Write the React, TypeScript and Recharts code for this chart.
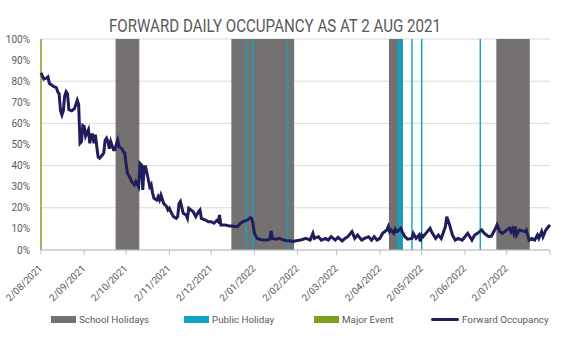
import {
  ComposedChart,
  Line,
  XAxis,
  YAxis,
  CartesianGrid,
  ReferenceArea,
  ReferenceLine,
} from "recharts";

// day 0 = 2 Aug 2021, day 365 = 2 Aug 2022
const tickDays = [0, 31, 61, 92, 122, 153, 184, 212, 243, 273, 304, 334, 365];
const tickLabels = [
  "2/08/2021", "2/09/2021", "2/10/2021", "2/11/2021", "2/12/2021", "2/01/2022",
  "2/02/2022", "2/03/2022", "2/04/2022", "2/05/2022", "2/06/2022", "2/07/2022", "",
];
const yTicks = [0, 10, 20, 30, 40, 50, 60, 70, 80, 90, 100];

// first and last day of each school holiday block
const schoolHolidays = [
  [54, 70],
  [137, 181],
  [250, 259],
  [327, 350],
];
const publicHolidays = [147, 152, 177, 256, 257, 258, 259, 266, 273, 315];
const majorEvents = [0];

const occDays = [
  0, 2, 4, 5, 6, 9, 11, 12, 13, 14, 15, 16, 17, 18, 19, 20, 22, 23, 24, 26, 27, 28, 29, 30, 31, 32, 34, 35, 36, 37, 38,
  39, 40, 41, 42, 44, 45, 46, 47, 48, 49, 50, 52, 53, 54, 55, 56, 58, 59, 60, 61, 62, 64, 65, 66, 67, 68, 70, 71, 72,
  73, 74, 75, 76, 78, 79, 80, 81, 83, 84, 85, 86, 88, 89, 90, 91, 92, 93, 95, 97, 98, 99, 100, 102, 104, 105, 106, 109,
  111, 113, 114, 115, 118, 120, 122, 124, 126, 127, 128, 129, 132, 135, 137, 139, 141, 143, 145, 148, 150, 151, 152,
  153, 155, 157, 159, 162, 164, 165, 166, 169, 171, 174, 176, 178, 181, 183, 186, 188, 190, 193, 195, 196, 199, 201,
  204, 206, 208, 211, 213, 216, 218, 220, 223, 225, 227, 230, 232, 235, 237, 239, 241, 243, 245, 248, 249, 250, 251,
  253, 254, 255, 256, 257, 258, 259, 261, 263, 266, 267, 269, 271, 272, 273, 274, 277, 279, 280, 283, 285, 287, 290,
  291, 293, 295, 297, 299, 302, 304, 306, 309, 311, 313, 316, 318, 321, 323, 326, 327, 329, 331, 334, 336, 337, 338,
  339, 340, 341, 343, 347, 348, 350, 352, 354, 356, 357, 359, 360, 362, 364, 365,
];
const occPct = [
  84, 81, 81.5, 82, 79, 77.5, 77, 75, 74, 66, 64, 66, 73, 75, 74, 66.5, 66, 66.5, 67, 71, 69, 50.6, 51.4, 59, 58.5, 54,
  57, 50.6, 54.6, 54.6, 50.6, 54.6, 49, 44, 43.5, 45, 46, 52, 53, 51.4, 48, 51.4, 47.5, 47.5, 50, 52, 49, 48, 46.7, 46,
  41, 36.4, 34, 32.4, 31.6, 30.9, 32.4, 30, 41, 40.3, 28.5, 39.5, 39.5, 36.4, 30, 31, 27, 24.5, 23.7, 25.3, 23.7, 26,
  22, 21.4, 20.6, 19, 19.8, 18.2, 15.8, 15, 15.8, 22, 23, 17.4, 16.6, 15, 19.8, 18.2, 15.8, 18.2, 19, 15, 14.2, 13.4,
  13.4, 12.7, 14, 13.4, 16.6, 11.9, 11.9, 11.4, 11.4, 11.1, 11.1, 12.7, 13.4, 14.2, 15.3, 15, 12.7, 7.9, 5.5, 5.1, 4.7,
  4.7, 5.1, 9, 5.5, 5.1, 5.5, 4.7, 4.4, 4.4, 4, 4.4, 4.7, 5.1, 5.5, 4.7, 7.9, 5.5, 6.3, 4.7, 5.5, 4.7, 6.3, 4.7, 6,
  4.3, 5.5, 6.3, 8.7, 5.5, 7.1, 4.7, 5.5, 6.3, 4.7, 6.3, 4.7, 5.5, 7.9, 9.5, 11.1, 8.7, 9.5, 7.9, 9.8, 8.7, 9, 9.8,
  10.3, 8.7, 6.3, 5.1, 5.5, 7.9, 5.5, 7.1, 4, 7.1, 6.3, 8.7, 10.3, 8.7, 5.5, 7.1, 5.5, 11.1, 15.8, 11.9, 7.1, 4.7, 5.5,
  4.7, 6.3, 7.9, 4.7, 7.1, 7.9, 9.5, 7.9, 6.3, 6.6, 10.3, 11.9, 8.7, 7.9, 9.5, 10.3, 8.7, 10, 7.9, 11.1, 7.1, 9.5, 8.7,
  9.5, 4.7, 5.5, 4.7, 7.1, 5.5, 8.7, 6.3, 9.5, 11.1, 11.9,
];

const GREY = "#767171";
const TEAL = "#0FA3C4";
const GREEN = "#7F9F1F";
const NAVY = "#1F1D5B";
const TEXT = "#595959";
const FONT = "Roboto, sans-serif";

const chartData = occDays.map((d, i) => ({ day: d, occ: occPct[i] }));

function XTick(props: any) {
  const { x, y, payload } = props;
  const label = tickLabels[tickDays.indexOf(payload.value)] ?? "";
  const ax = x + 2;
  const ay = y + 12;
  return (
    <text
      x={ax}
      y={ay}
      transform={`rotate(-45, ${ax}, ${ay})`}
      textAnchor="end"
      fontSize={9.8}
      fill={TEXT}
      fontFamily={FONT}
    >
      {label}
    </text>
  );
}

const legendItems = [
  { label: "School Holidays", color: GREY, left: 51, kind: "box" },
  { label: "Public Holiday", color: TEAL, left: 184, kind: "box" },
  { label: "Major Event", color: GREEN, left: 314, kind: "box" },
  { label: "Forward Occupancy", color: NAVY, left: 431, kind: "line" },
];

export default function App() {
  return (
    <div style={{ position: "absolute", left: 0, top: 0, width: 574, height: 339, background: "#fff", fontFamily: FONT }}>
      <svg width={574} height={40} style={{ position: "absolute", left: 0, top: 0 }}>
        <text x={275} y={32} textAnchor="middle" fontSize={19} fill={TEXT} textLength={332} lengthAdjust="spacingAndGlyphs">
          FORWARD DAILY OCCUPANCY AS AT 2 AUG 2021
        </text>
      </svg>
      <ComposedChart width={574} height={339} data={chartData} margin={{ top: 39, right: 24, left: 0, bottom: 39 }}>
        <CartesianGrid vertical={false} stroke="#D9D9D9" strokeWidth={1} />
        <XAxis
          dataKey="day"
          type="number"
          domain={[0, 365]}
          ticks={tickDays}
          interval={0}
          height={50}
          tickSize={5}
          axisLine={{ stroke: "#BFBFBF" }}
          tickLine={{ stroke: "#BFBFBF" }}
          tick={<XTick />}
        />
        <YAxis
          domain={[0, 100]}
          ticks={yTicks}
          width={41}
          axisLine={false}
          tickLine={false}
          tickMargin={5}
          tickFormatter={(v: number) => `${v}%`}
          tick={{ fill: TEXT, fontSize: 10, fontFamily: FONT }}
        />
        {schoolHolidays.map(([a, b], i) => (
          <ReferenceArea key={`s${i}`} x1={a - 0.5} x2={b + 0.5} fill={GREY} fillOpacity={1} stroke="none" ifOverflow="hidden" />
        ))}
        {publicHolidays.map((d, i) => (
          <ReferenceArea key={`p${i}`} x1={d - 0.5} x2={d + 0.5} fill={TEAL} fillOpacity={1} stroke="none" ifOverflow="hidden" />
        ))}
        {majorEvents.map((d, i) => (
          <ReferenceLine key={`m${i}`} x={d} stroke={GREEN} strokeWidth={1.5} />
        ))}
        <Line
          type="linear"
          dataKey="occ"
          stroke={NAVY}
          strokeWidth={3}
          dot={false}
          isAnimationActive={false}
        />
      </ComposedChart>
      {legendItems.map((it) => (
        <div
          key={it.label}
          style={{ position: "absolute", left: it.left, top: 312, height: 14, display: "flex", alignItems: "center", fontSize: 9.8, color: TEXT, whiteSpace: "nowrap" }}
        >
          {it.kind === "box" ? (
            <span style={{ display: "inline-block", width: 25, height: 7, background: it.color }} />
          ) : (
            <span style={{ display: "inline-block", width: 28, height: 3, borderRadius: 2, background: it.color }} />
          )}
          <span style={{ marginLeft: 3 }}>{it.label}</span>
        </div>
      ))}
    </div>
  );
}
